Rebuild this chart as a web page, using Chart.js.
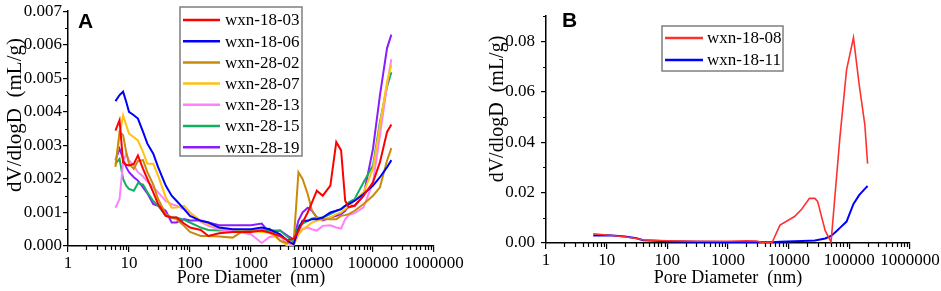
<!DOCTYPE html>
<html>
<head>
<meta charset="utf-8">
<script src="https://cdn.jsdelivr.net/npm/chart.js@4.4.1/dist/chart.umd.min.js"></script>
<style>
  html, body { margin: 0; padding: 0; background: #fff; }
  #wrap { position: relative; width: 941px; height: 291px; }
  #chartA { position: absolute; left: 0; top: 0; }
  #chartB { position: absolute; left: 470px; top: 0; }
</style>
</head>
<body>
<div id="wrap">
  <canvas id="chartA" width="470" height="291"></canvas>
  <canvas id="chartB" width="471" height="291"></canvas>
</div>
<script>
// ---- panel A data (pore diameter in nm, dV/dlogD in mL/g) ----
const poreA = [6, 7, 8, 9, 10, 12, 14, 17, 20, 25, 30, 40, 50, 60, 80, 100, 150, 200, 300, 500, 700, 1000,
  1500, 2000, 3000, 4000, 5000, 6000, 7000, 8500, 10000, 12000, 15000, 20000, 25000, 30000, 35000, 40000,
  50000, 70000, 100000, 130000, 170000, 200000];

const wxn1803 = [0.00344, 0.00375, 0.0025, 0.00242, 0.0024, 0.00245, 0.0027, 0.0023, 0.0020, 0.0016, 0.00125,
  0.0009, 0.00085, 0.00085, 0.00067, 0.00055, 0.00048, 0.0003, 0.00038, 0.00042, 0.00042, 0.00042, 0.00046,
  0.0004, 0.0003, 0.00017, 0.00022, 0.00045, 0.0007, 0.0010, 0.0013, 0.00165, 0.0015, 0.0018, 0.0031, 0.00285,
  0.00135, 0.00115, 0.0012, 0.0015, 0.0019, 0.0025, 0.0034, 0.00362];
const wxn1806 = [0.00432, 0.0045, 0.0046, 0.0043, 0.0040, 0.0039, 0.0038, 0.0034, 0.00305, 0.00275, 0.00235,
  0.0018, 0.0015, 0.00135, 0.0011, 0.0009, 0.00075, 0.0007, 0.00055, 0.0005, 0.0005, 0.0005, 0.00055, 0.0005,
  0.00035, 0.00015, 0.00005, 0.0005, 0.00075, 0.00075, 0.0008, 0.0008, 0.00085, 0.0010, 0.00105, 0.0011, 0.0012,
  0.00125, 0.00135, 0.00155, 0.0018, 0.00205, 0.00235, 0.00256];
const wxn2802 = [0.00236, 0.0034, 0.0033, 0.0028, 0.00245, 0.0023, 0.00253, 0.00256, 0.0022, 0.00183, 0.0014,
  0.00095, 0.00085, 0.0008, 0.0006, 0.00042, 0.0003, 0.0003, 0.00028, 0.00025, 0.00042, 0.00046, 0.00046,
  0.00052, 0.00015, 0.00009, 0.0001, 0.0022, 0.0020, 0.00155, 0.00105, 0.00085, 0.0008, 0.0008, 0.0008, 0.0009,
  0.00092, 0.00095, 0.00105, 0.00125, 0.0015, 0.00175, 0.00255, 0.00292];
const wxn2807 = [0.00242, 0.0033, 0.0039, 0.0036, 0.00335, 0.00324, 0.00315, 0.0028, 0.00245, 0.00245, 0.0021,
  0.00145, 0.00114, 0.00115, 0.0012, 0.0010, 0.00075, 0.00065, 0.00055, 0.0005, 0.00048, 0.00045, 0.00042,
  0.0004, 0.00017, 0.0, 0.00002, 0.00035, 0.0005, 0.0006, 0.0007, 0.00075, 0.0008, 0.00085, 0.00095, 0.0010,
  0.0011, 0.0012, 0.00135, 0.0016, 0.0023, 0.0036, 0.0049, 0.0054];
const wxn2813 = [0.00114, 0.0014, 0.0025, 0.00275, 0.00255, 0.0024, 0.0022, 0.00207, 0.00192, 0.00175, 0.0016,
  0.00134, 0.00125, 0.0012, 0.0011, 0.0010, 0.00072, 0.0006, 0.0005, 0.00045, 0.0004, 0.00035, 0.00009,
  0.00027, 0.0003, 0.0, 0.00005, 0.00035, 0.0005, 0.00055, 0.0005, 0.00046, 0.0006, 0.00062, 0.00055, 0.00052,
  0.0008, 0.00092, 0.00098, 0.00115, 0.0019, 0.0033, 0.0048, 0.00557];
const wxn2815 = [0.00245, 0.0026, 0.0020, 0.0018, 0.0017, 0.00165, 0.00187, 0.00183, 0.0016, 0.00134, 0.0012,
  0.0009, 0.00085, 0.00085, 0.00078, 0.0007, 0.00055, 0.00048, 0.00046, 0.00046, 0.00046, 0.00046, 0.00046,
  0.00046, 0.00046, 0.00027, 0.00012, 0.0006, 0.00067, 0.00075, 0.00082, 0.00084, 0.00085, 0.00095, 0.00105,
  0.0011, 0.0012, 0.0013, 0.0014, 0.0019, 0.0024, 0.0037, 0.00475, 0.00518];
const wxn2819 = [0.00256, 0.0029, 0.0026, 0.00235, 0.0022, 0.00205, 0.00195, 0.00175, 0.00157, 0.00125, 0.0012,
  0.00105, 0.0007, 0.0007, 0.0008, 0.00076, 0.00076, 0.0007, 0.00062, 0.00062, 0.00062, 0.00062, 0.00067,
  0.0004, 0.00046, 0.0003, 0.0002, 0.00076, 0.0010, 0.00114, 0.00105, 0.00085, 0.00076, 0.00085, 0.0009,
  0.00095, 0.00105, 0.0012, 0.0012, 0.0015, 0.0029, 0.0045, 0.0059, 0.0063];

// ---- panel B data ----
const poreB = [6, 11, 20, 31, 40, 100, 300, 1000, 2000, 3000, 3500, 5300, 7200, 12500, 16500, 22000, 27000,
  30000, 40000, 50000, 60000, 70000, 90000, 117000, 145000, 180000, 200000];
const wxn1808 = [0.0037, 0.0031, 0.0025, 0.0018, 0.0012, 0.0009, 0.0007, 0.0007, 0.0009, 0.0008, 0.0002, 0.0001,
  0.0071, 0.0105, 0.0135, 0.0177, 0.0177, 0.0165, 0.0049, 0.0004, 0.023, 0.042, 0.0687, 0.0815, 0.063, 0.047,
  0.0315];
const wxn1811 = [0.0030, 0.0031, 0.0026, 0.0019, 0.0011, 0.0007, 0.0005, 0.0004, 0.0004, 0.0003, 0.0003, 0.0003,
  0.0005, 0.0007, 0.0008, 0.0009, 0.0010, 0.0012, 0.0018, 0.0028, 0.0045, 0.0060, 0.0085, 0.0155, 0.0190,
  0.0215, 0.0226];

// ---- axis ticks ----
const xTicks = [1, 10, 100, 1000, 10000, 100000, 1000000];
const yTicksA = [0, 0.001, 0.002, 0.003, 0.004, 0.005, 0.006, 0.007];
const yMinorA = [0.0005, 0.0015, 0.0025, 0.0035, 0.0045, 0.0055, 0.0065];
const yTicksB = [0, 0.02, 0.04, 0.06, 0.08];
const yMinorB = [0.01, 0.03, 0.05, 0.07, 0.09];

const SERIF = '"Liberation Serif", "Times New Roman", serif';
const Y_TITLE = 'dV/dlogD  (mL/g)';

const toPts = (xs, ys) => xs.map((x, i) => ({ x: x, y: ys[i] }));

// minor ticks, y title, panel letter and boxed legend
const decor = {
  id: 'decor',
  afterDraw(chart, args, o) {
    const ctx = chart.ctx;
    const xs = chart.scales.x, ys = chart.scales.y, a = chart.chartArea;
    ctx.save();
    ctx.strokeStyle = '#000';
    ctx.lineWidth = 1.2;
    ctx.beginPath();
    for (let d = 1; d < xs.max; d *= 10) {
      for (let m = 2; m < 10; m++) {
        const px = Math.round(xs.getPixelForValue(m * d)) + 0.5;
        ctx.moveTo(px, a.bottom);
        ctx.lineTo(px, a.bottom + 4);
      }
    }
    o.yMinor.forEach(v => {
      const py = Math.round(ys.getPixelForValue(v)) + 0.5;
      ctx.moveTo(a.left - 3, py);
      ctx.lineTo(a.left, py);
    });
    ctx.stroke();

    // rotated y title (sits a little above the axis middle, as in the original)
    ctx.fillStyle = '#000';
    ctx.save();
    ctx.translate(o.yTitle.x, o.yTitle.y);
    ctx.rotate(-Math.PI / 2);
    ctx.font = o.yTitle.size + 'px ' + SERIF;
    ctx.textAlign = 'center';
    ctx.textBaseline = 'middle';
    ctx.fillText(Y_TITLE, 0, 0);
    ctx.restore();

    ctx.font = 'bold 21px "Liberation Sans", Arial, sans-serif';
    ctx.textBaseline = 'alphabetic';
    ctx.fillText(o.letter, o.letterX, o.letterY);

    const lg = o.legend;
    ctx.strokeStyle = '#7f7f7f';
    ctx.lineWidth = 1.5;
    ctx.strokeRect(lg.x, lg.y, lg.w, lg.h);
    ctx.font = '17px ' + SERIF;
    ctx.textBaseline = 'middle';
    chart.data.datasets.forEach((ds, i) => {
      const cy = lg.y + lg.first + i * lg.step;
      ctx.strokeStyle = ds.borderColor;
      ctx.lineWidth = 2.5;
      ctx.beginPath();
      ctx.moveTo(lg.x + 3, cy);
      ctx.lineTo(lg.x + 3 + lg.len, cy);
      ctx.stroke();
      ctx.fillStyle = '#000';
      ctx.fillText(ds.label, lg.x + lg.textX, cy + 1);
    });
    ctx.restore();
  }
};

function line(label, color, xs, ys, width) {
  return { label: label, data: toPts(xs, ys), borderColor: color, backgroundColor: color,
    borderWidth: width, pointRadius: 0, tension: 0, fill: false };
}

function axes(yMax, yTicks, yDigits, yWidth, xHeight, yPad) {
  return {
    x: {
      type: 'logarithmic', min: 1, max: 1000000,
      afterFit: s => { s.height = xHeight; },
      afterBuildTicks: s => { s.ticks = xTicks.map(v => ({ value: v })); },
      grid: { drawOnChartArea: false, drawTicks: true, tickLength: 6, color: '#000', lineWidth: 1.2 },
      border: { display: true, color: '#000', width: 1.5 },
      ticks: { color: '#000', font: { family: SERIF, size: 17 }, padding: 1, maxRotation: 0, autoSkip: false,
        callback: v => String(v) },
      title: { display: true, text: 'Pore Diameter  (nm)', color: '#000', font: { family: SERIF, size: 18 },
        padding: { top: 0, bottom: 2 } }
    },
    y: {
      type: 'linear', min: 0, max: yMax,
      afterFit: s => { s.width = yWidth; },
      afterBuildTicks: s => { s.ticks = yTicks.map(v => ({ value: v })); },
      grid: { drawOnChartArea: false, drawTicks: true, tickLength: 5, color: '#000', lineWidth: 1.2 },
      border: { display: true, color: '#000', width: 1.5 },
      ticks: { color: '#000', font: { family: SERIF, size: 17 }, padding: yPad,
        callback: v => Number(v).toFixed(yDigits) }
    }
  };
}

new Chart(document.getElementById('chartA'), {
  type: 'line',
  data: {
    datasets: [
      line('wxn-18-03', '#ff0000', poreA, wxn1803, 2),
      line('wxn-18-06', '#0000ff', poreA, wxn1806, 2),
      line('wxn-28-02', '#c98a0c', poreA, wxn2802, 2),
      line('wxn-28-07', '#ffc20e', poreA, wxn2807, 2),
      line('wxn-28-13', '#ff80ff', poreA, wxn2813, 2),
      line('wxn-28-15', '#10b060', poreA, wxn2815, 2),
      line('wxn-28-19', '#8a1cff', poreA, wxn2819, 2)
    ]
  },
  options: {
    responsive: false, animation: false,
    layout: { padding: { left: 0, top: 6, right: 36, bottom: 0 } },
    scales: axes(0.007, yTicksA, 3, 68, 45, 1),
    plugins: {
      legend: { display: false }, tooltip: { enabled: false },
      decor: { yMinor: yMinorA, yTitle: { x: 15, y: 115, size: 21 }, letter: 'A', letterX: 78, letterY: 28,
        legend: { x: 180, y: 7, w: 122, h: 149, first: 13, step: 21.2, len: 37, textX: 45 } }
    }
  },
  plugins: [decor]
});

new Chart(document.getElementById('chartB'), {
  type: 'line',
  data: {
    datasets: [
      line('wxn-18-08', '#ff3030', poreB, wxn1808, 1.6),
      line('wxn-18-11', '#0000ff', poreB, wxn1811, 2)
    ]
  },
  options: {
    responsive: false, animation: false,
    layout: { padding: { left: 0, top: 4, right: 31, bottom: 0 } },
    scales: axes(0.09, yTicksB, 2, 76, 48, 6),
    plugins: {
      legend: { display: false }, tooltip: { enabled: false },
      decor: { yMinor: yMinorB, yTitle: { x: 28, y: 109, size: 20 }, letter: 'B', letterX: 92, letterY: 27,
        legend: { x: 192, y: 26, w: 121, h: 45, first: 12, step: 22, len: 38, textX: 45 } }
    }
  },
  plugins: [decor]
});
</script>
</body>
</html>
